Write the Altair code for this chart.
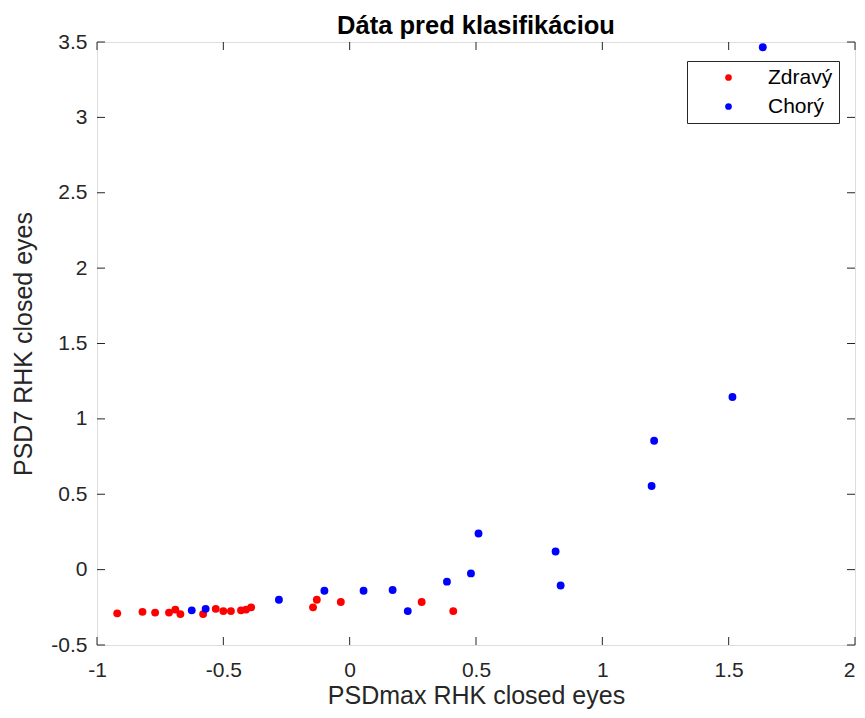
import altair as alt
import pandas as pd

# Zdravý (healthy)
healthy_x = [-0.92, -0.82, -0.77, -0.715, -0.69, -0.67, -0.58, -0.53, -0.50, -0.47,
             -0.43, -0.41, -0.39, -0.145, -0.13, -0.035, 0.285, 0.41]
healthy_y = [-0.29, -0.28, -0.285, -0.285, -0.265, -0.295, -0.295, -0.26, -0.275, -0.275,
             -0.27, -0.265, -0.25, -0.25, -0.20, -0.215, -0.215, -0.275]
# Chorý (sick)
sick_x = [-0.625, -0.57, -0.28, -0.10, 0.055, 0.17, 0.23, 0.385, 0.48, 0.51,
          0.815, 0.835, 1.195, 1.205, 1.515, 1.635]
sick_y = [-0.27, -0.26, -0.20, -0.14, -0.14, -0.135, -0.275, -0.08, -0.025, 0.24,
          0.12, -0.105, 0.555, 0.855, 1.145, 3.465]

groups = ["Zdravý", "Chorý"]
colors = ["#ff0000", "#0000ff"]
x_ticks = [-1, -0.5, 0, 0.5, 1, 1.5, 2]
y_ticks = [-0.5, 0, 0.5, 1, 1.5, 2, 2.5, 3, 3.5]

W, H = 758, 603
AX = "#262626"
FONT = "Liberation Sans"

df = pd.DataFrame({
    "x": healthy_x + sick_x,
    "y": healthy_y + sick_y,
    "g": [groups[0]] * len(healthy_x) + [groups[1]] * len(sick_x),
})
xt = pd.DataFrame({"v": x_ticks})
yt = pd.DataFrame({"v": y_ticks})

xscale = alt.Scale(domain=[-1, 2], nice=False, zero=False)
yscale = alt.Scale(domain=[-0.5, 3.5], nice=False, zero=False)

points = alt.Chart(df).mark_circle(size=62, opacity=1).encode(
    x=alt.X("x:Q", scale=xscale, title="PSDmax RHK closed eyes",
            axis=alt.Axis(values=x_ticks, grid=False, ticks=False, domain=False,
                          labelFlush=False, labelOverlap=False,
                          labelAlign={"condition": {"test": "datum.value >= 2", "value": "right"},
                                      "value": "center"},
                          labelExpr="'' + datum.value", labelPadding=14,
                          titlePadding=3, labelFontSize=21, titleFontSize=25,
                          labelColor=AX, titleColor=AX, labelFont=FONT, titleFont=FONT,
                          titleFontWeight="normal")),
    y=alt.Y("y:Q", scale=yscale, title="PSD7 RHK closed eyes",
            axis=alt.Axis(values=y_ticks, grid=False, ticks=False, domain=False,
                          labelFlush=False, labelOverlap=False,
                          labelExpr="'' + datum.value", labelPadding=10,
                          titlePadding=14, labelFontSize=21, titleFontSize=25,
                          labelColor=AX, titleColor=AX, labelFont=FONT, titleFont=FONT,
                          titleFontWeight="normal")),
    color=alt.Color("g:N", scale=alt.Scale(domain=groups, range=colors),
                    legend=alt.Legend(title=None, orient="none", legendX=590, legendY=19,
                                      strokeColor=AX, fillColor="white", padding=6,
                                      symbolOffset=25, labelOffset=29, symbolSize=45,
                                      symbolType="circle", labelFontSize=21, labelFont=FONT,
                                      labelColor="black", rowPadding=7)),
)

tick_len = 8
bx = alt.Chart(xt).mark_rule(color=AX, strokeWidth=1).encode(
    x=alt.X("v:Q", scale=xscale), y=alt.value(H), y2=alt.value(H - tick_len))
tx = alt.Chart(xt).mark_rule(color=AX, strokeWidth=1).encode(
    x=alt.X("v:Q", scale=xscale), y=alt.value(0), y2=alt.value(tick_len))
ly = alt.Chart(yt).mark_rule(color=AX, strokeWidth=1).encode(
    y=alt.Y("v:Q", scale=yscale), x=alt.value(0), x2=alt.value(tick_len))
ry = alt.Chart(yt).mark_rule(color=AX, strokeWidth=1).encode(
    y=alt.Y("v:Q", scale=yscale), x=alt.value(W), x2=alt.value(W - tick_len))

chart = alt.layer(bx, tx, ly, ry, points).properties(
    width=W, height=H,
    title=alt.TitleParams("Dáta pred klasifikáciou", fontSize=25.5, fontWeight="bold",
                          font=FONT, color="black", anchor="middle", offset=-8),
    autosize=alt.AutoSizeParams(type="none"),
    padding={"left": 89, "top": 34, "right": 2, "bottom": 65},
).configure_view(stroke=AX, strokeWidth=1).configure(background="white")

chart.save("out.html", embed_options={"renderer": "svg", "actions": False})
